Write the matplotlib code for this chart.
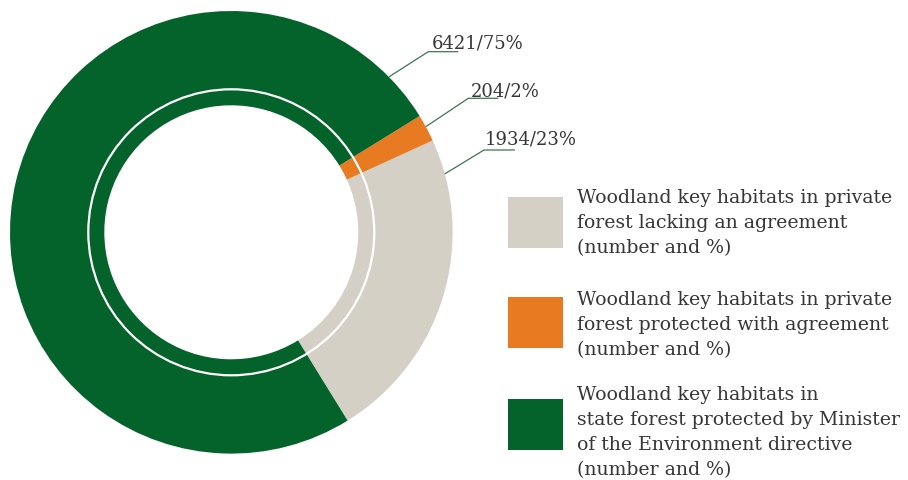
import numpy as np
import matplotlib
matplotlib.use("Agg")
import matplotlib.pyplot as plt
from matplotlib.patches import Circle, Rectangle

# Woodland key habitats, by protection status
categories = [
    "Woodland key habitats in private\nforest lacking an agreement\n(number and %)",
    "Woodland key habitats in private\nforest protected with agreement\n(number and %)",
    "Woodland key habitats in\nstate forest protected by Minister\nof the Environment directive\n(number and %)",
]
counts = [1934, 204, 6421]
percents = [23, 2, 75]
colors = ["#d4d0c6", "#e87b22", "#03632a"]

W, H = 908, 481
fig = plt.figure(figsize=(W / 100, H / 100), dpi=100)
ax = fig.add_axes([0, 0, 1, 1])

FONT = "DejaVu Serif"
TEXT_COLOR = "#363636"
LINE_COLOR = "#3f7452"


def Y(y_top):
    """Convert a top-down pixel row to axes y."""
    return H - y_top


cx, cy = 231.3, Y(233.3)
r_out, r_in = 221.3, 127.0
start = -58.3

wedges, _ = ax.pie(
    percents,
    colors=colors,
    radius=r_out,
    center=(cx, cy),
    startangle=start,
    counterclock=True,
    wedgeprops=dict(width=r_out - r_in, edgecolor="none", linewidth=0),
    frame=True,
)
ax.add_patch(Circle((cx, cy), 143.0, fill=False, edgecolor="white", linewidth=1.6))

# value call-outs with elbow leader lines
leader_angles = [15.3, 28.5, 44.6]
elbows = [(484.0, 151.0), (468.3, 99.3), (428.3, 52.7)]
line_ends = [515.0, 498.3, 458.3]
label_pos = [(485.0, 145.0), (470.7, 96.0), (431.7, 48.3)]
for cnt, pct, ang, (ex, ey), xe, (tx, ty) in zip(
    counts, percents, leader_angles, elbows, line_ends, label_pos
):
    a = np.deg2rad(ang)
    sx, sy = cx + r_out * np.cos(a), cy + r_out * np.sin(a)
    ax.plot([sx, ex, xe], [sy, Y(ey), Y(ey)], color=LINE_COLOR, lw=0.9,
            solid_capstyle="butt")
    ax.text(tx, Y(ty), f"{cnt}/{pct}%", family=FONT, fontsize=13.0,
            color=TEXT_COLOR, ha="left", va="baseline")

# legend
box_tops = [198.3, 298.3, 400.0]
first_baselines = [203.3, 305.0, 400.5]
for label, col, bt, fb in zip(categories, colors, box_tops, first_baselines):
    ax.add_patch(Rectangle((508.3, Y(bt + 50.7)), 54.4, 50.7, facecolor=col,
                           edgecolor="none"))
    for i, line in enumerate(label.split("\n")):
        ax.text(576.7, Y(fb + 25.0 * i), line, family=FONT, fontsize=13.55,
                color=TEXT_COLOR, ha="left", va="baseline")

ax.set_xlim(0, W)
ax.set_ylim(0, H)
ax.set_aspect("auto")
ax.axis("off")

fig.savefig("out.png", dpi=100, facecolor="white")
